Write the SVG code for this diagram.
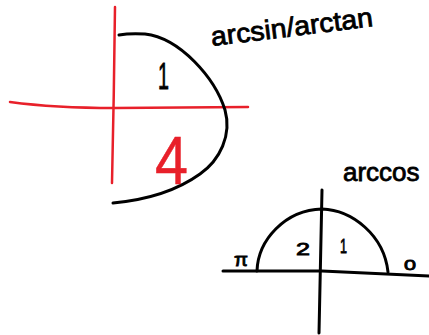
<svg xmlns="http://www.w3.org/2000/svg" width="429" height="335" viewBox="0 0 429 335">
<style>
.ink{fill:none;stroke:#000;stroke-width:3;stroke-linecap:round;stroke-linejoin:round}
.red{fill:none;stroke:#e8202a;stroke-width:2.5;stroke-linecap:round;stroke-linejoin:round}
.lbl{font-family:"Liberation Sans","Open Sans",sans-serif;fill:#000;stroke:#000;stroke-width:0.8}
.rlbl{font-family:"Liberation Sans","Open Sans",sans-serif;fill:#e8202a;stroke:#e8202a;stroke-width:0.5}
</style>
<rect width="429" height="335" fill="#fff"/>
<g id="graph-arcsin">
  <path class="red" d="M115,7 Q114,95 112,183"/>
  <path class="red" d="M10,102 C40,106 80,108 115,108 L248,107"/>
  <path class="ink" d="M119,35 Q130,33 145,34 C180,38 215,78 225,110 C232,135 220,160 200,174 C175,192 145,200 113,203"/>
  <text class="lbl" x="158" y="89" font-size="37" textLength="11" lengthAdjust="spacingAndGlyphs">1</text>
  <text class="rlbl" x="155" y="184" font-size="68" textLength="33" lengthAdjust="spacingAndGlyphs">4</text>
  <text class="lbl" x="212" y="46" font-size="27" textLength="163" lengthAdjust="spacingAndGlyphs" transform="rotate(-7 212 46)">arcsin/arctan</text>
</g>
<g id="graph-arccos">
  <path class="ink" d="M223,271 L322,271 L429,276"/>
  <path class="ink" d="M322,190 L319,333"/>
  <path class="ink" d="M257,271 C258,240 285,210 322,209 C352,210 384,235 388,272"/>
  <text class="lbl" x="343" y="181" font-size="26">arccos</text>
  <text class="lbl" x="234" y="266" font-size="18" textLength="14" lengthAdjust="spacingAndGlyphs">π</text>
  <text class="lbl" x="296" y="255" font-size="17" textLength="14" lengthAdjust="spacingAndGlyphs">2</text>
  <text class="lbl" x="340" y="253" font-size="20" textLength="7" lengthAdjust="spacingAndGlyphs">1</text>
  <text class="lbl" x="404" y="270" font-size="15" textLength="12" lengthAdjust="spacingAndGlyphs">0</text>
</g>
</svg>
